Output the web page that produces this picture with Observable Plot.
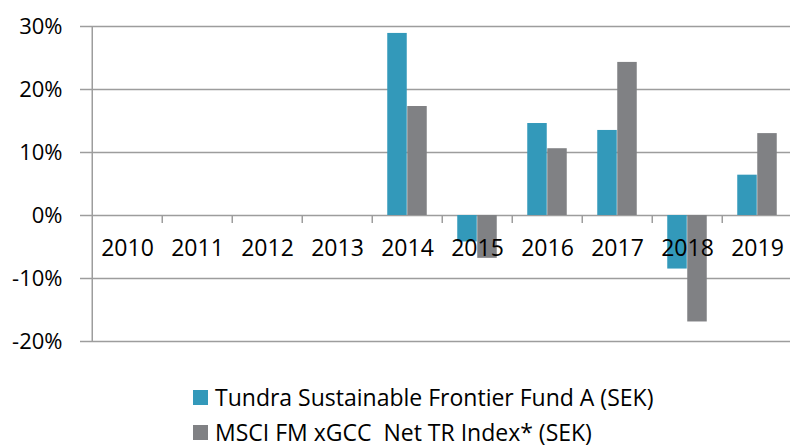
<!DOCTYPE html>
<html><head><meta charset="utf-8">
<script src="https://cdn.jsdelivr.net/npm/d3@7"></script>
<script src="https://cdn.jsdelivr.net/npm/@observablehq/plot@0.6"></script>
<style>
body{margin:0;background:#fff;font-family:"Open Sans",sans-serif;}
#wrap{position:relative;width:790px;height:447px;overflow:hidden;}
.leg{position:absolute;left:193px;font-size:23px;color:#000;display:flex;align-items:center;white-space:pre;}
.sw{width:15px;height:15px;margin-right:7px;}
</style></head>
<body><div id="wrap"></div>
<script>
const years = ["2010","2011","2012","2013","2014","2015","2016","2017","2018","2019"];
const seriesNames = ["Tundra Sustainable Frontier Fund A (SEK)", "MSCI FM xGCC  Net TR Index* (SEK)"];
const fundValues = [null,null,null,null,28.9,-4.2,14.6,13.5,-8.5,6.4];
const indexValues = [null,null,null,null,17.3,-6.8,10.6,24.3,-16.9,13.0];
const yTicks = [-20,-10,0,10,20,30];
const colors = ["#3399BA","#808184"];

const W = 790, ML = 89, MR = -4;
const bw = (W - ML - MR) / years.length;
const barW = 20;
const fund = years.map((y,i)=>({year:y, v:fundValues[i]})).filter(d=>d.v!=null);
const idx = years.map((y,i)=>({year:y, v:indexValues[i]})).filter(d=>d.v!=null);
const grid = "#9d9d9d";

const chart = Plot.plot({
  width: W, height: 360,
  marginLeft: ML, marginRight: MR, marginTop: 26, marginBottom: 19,
  style: {fontFamily: '"Open Sans", sans-serif', background: "transparent"},
  x: {domain: years, padding: 0, axis: null},
  y: {domain: [-20, 30], axis: null},
  marks: [
    Plot.ruleY(yTicks, {y: d=>d, stroke: grid, strokeWidth: 1.5}),
    Plot.axisY(yTicks, {label: null, tickSize: 9, tickPadding: 18, stroke: grid, strokeWidth: 1.5, tickFormat: d => d + "%", fontSize: 22, fill: "#000"}),
    Plot.ruleX([years[0]], {x: d=>d, dx: -bw/2, y1: -20, y2: 30, stroke: grid, strokeWidth: 1.5}),
    Plot.ruleX(years.slice(1), {x: d=>d, dx: -bw/2, y1: 0, y2: -1.25, stroke: grid, strokeWidth: 1.5}),
    Plot.barY(fund, {x: "year", y: "v", fill: colors[0], insetLeft: bw/2 - barW, insetRight: bw/2}),
    Plot.barY(idx, {x: "year", y: "v", fill: colors[1], insetLeft: bw/2, insetRight: bw/2 - barW}),
    Plot.text(years, {x: d=>d, y: 0, dy: 33, text: d=>d, fontSize: 23, fill: "#000"})
  ]
});
const wrap = document.getElementById("wrap");
wrap.appendChild(chart);
seriesNames.forEach((n,i)=>{
  const d = document.createElement("div");
  d.className = "leg";
  d.style.top = (381 + i*35) + "px";
  d.innerHTML = `<span class="sw" style="background:${colors[i]}"></span><span>${n}</span>`;
  wrap.appendChild(d);
});
</script></body></html>
